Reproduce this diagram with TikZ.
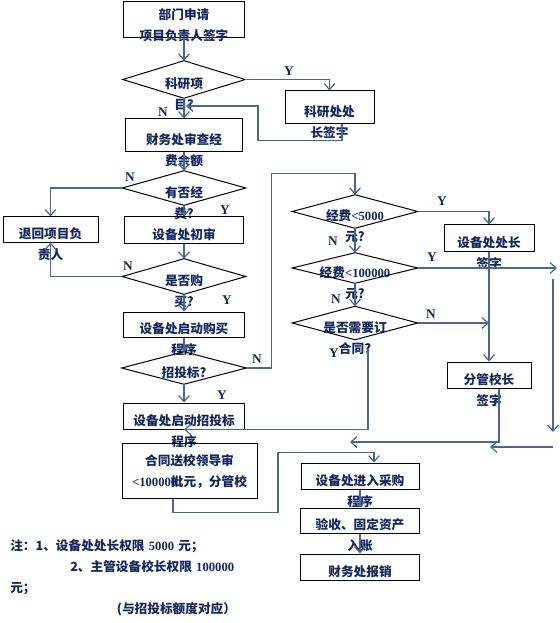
\documentclass[tikz,border=0pt]{standalone}
\usepackage{fontspec}
\setmainfont{Liberation Serif}
\newfontfamily\cjk{Noto Sans CJK SC}
\usetikzlibrary{arrows.meta, calc}
\definecolor{inkblue}{RGB}{18,38,98}
\definecolor{lineblue}{RGB}{72,102,152}

\begin{document}
\begin{tikzpicture}[
    x=0.75pt, y=-0.75pt,
    font=\cjk\bfseries\fontsize{9.5}{15.75}\selectfont,
    box/.style={rectangle, draw=black, line width=0.75pt, text=inkblue,
                align=center, inner sep=0pt, text height=13.6pt, text depth=0pt,
                text width=#1*0.75pt},
    dia/.style={rectangle, text=inkblue, align=center, inner sep=0pt,
                text height=13.6pt, text depth=0pt, text width=#1*0.75pt},
    ht/.style={minimum height=#1*0.75pt},
    yn/.style={font=\rmfamily\bfseries\fontsize{10}{12}\selectfont,
               text=inkblue, inner sep=0pt},
    note/.style={anchor=north west, align=left, text=inkblue, inner sep=0pt,
                 text width=260*0.75pt},
    arr/.style={draw=lineblue, line width=0.9pt,
                -{Straight Barb[length=4.5pt, width=8pt]}}
  ]
    \useasboundingbox (0,0) rectangle (559,623);

    % left column
    \node[box=121, ht=36, text height=0pt] (apply) at (184,20) {部门申请\\项目负责人签字};
    \node[dia=122, ht=37] (isres)    at (184,79.5)  {科研项\\目?};
    \node[box=89, ht=33]  (ressign)  at (329.5,107.5) {科研处处\\长签字};
    \node[box=117, ht=33] (fincheck) at (184,135.5) {财务处审查经\\费余额};
    \node[dia=123, ht=34] (hasfund)  at (184,188)   {有否经\\费?};
    \node[box=95, ht=25]  (back)     at (50.5,229.5) {退回项目负\\责人};
    \node[box=119, ht=26] (firstrev) at (184,230)   {设备处初审};
    \node[dia=123, ht=35] (buy)      at (184,276.5) {是否购\\买?};
    \node[box=121, ht=25] (startbuy) at (184,324.5) {设备处启动购买\\程序};
    \node[dia=124, ht=32] (bid)      at (184,368)   {招投标?};
    \node[box=121, ht=26] (startbid) at (184,416)   {设备处启动招投标\\程序};
    \node[box=135, ht=55, text height=0pt, text depth=8.2pt] (contract) at (189.5,470.5)
        {合同送校领导审\\\textrm{<10000\rlap{0}}批元，分管校};

    % right column
    \node[dia=125, ht=33] (lt5k)     at (355,211.5) {经费\textrm{<5000}\\元?};
    \node[dia=125, ht=30] (lt100k)   at (355,268)   {经费\textrm{<100000}\\元?};
    \node[dia=125, ht=33] (needct)   at (355,323)   {是否需要订\\合同?};
    \node[box=90, ht=26]  (headsign) at (489,238)   {设备处处长\\签字};
    \node[box=84, ht=26]  (vpsign)   at (489,375)   {分管校长\\签字};
    \node[box=118, ht=26] (purchase) at (360,476)   {设备处进入采购\\程序};
    \node[box=119, ht=25] (accept)   at (360,520.5) {验收、固定资产\\入账};
    \node[box=119, ht=26] (reimb)    at (360,567)   {财务处报销};

    \foreach \d in {isres,hasfund,buy,bid,lt5k,lt100k,needct}
      \draw[line width=0.75pt] (\d.west) -- (\d.north) -- (\d.east) -- (\d.south) -- cycle;

    % Y / N
    \node[yn] (y1) at (289,71)  {Y};
    \node[yn] (n1) at (163,112) {N};
    \node[yn] (n2) at (130,177) {N};
    \node[yn] (y2) at (225,210) {Y};
    \node[yn] (n3) at (128,266) {N};
    \node[yn] (y3) at (227,300) {Y};
    \node[yn] (n4) at (257,359) {N};
    \node[yn] (y4) at (222,395) {Y};
    \node[yn] (y5) at (442,201) {Y};
    \node[yn] (n5) at (333,241) {N};
    \node[yn] (y6) at (432,257) {Y};
    \node[yn] (n6) at (336,299) {N};
    \node[yn] (n7) at (431,314) {N};
    \node[yn] (y7) at (334,353) {Y};

    \coordinate (back1) at (186,106);
    \coordinate (ctY)   at ($(needct.south)+(13,9)$);
    \coordinate (rgo)   at (557,268);
    \coordinate (rtop)  at (553,279);
    \coordinate (rbot)  at (553,432);
    \coordinate (rin)   at (553,447);
    \coordinate (rout)  at (490,447);
    \coordinate (vpout) at (350,442);

    \draw[arr] (apply.south) -- (isres.north);
    \draw[arr] (isres.east) -| (ressign.north);
    \draw[arr] ($(ressign.south)+(12.5,0)$) |- ($(ressign.south)+(-71.5,16)$) |- (back1);
    \draw[arr] (isres.south) -- (fincheck.north);
    \draw[arr] (fincheck.south) -- (hasfund.north);
    \draw[arr] (hasfund.west) -| (back.north);
    \draw[arr] (hasfund.south) -- (firstrev.north);
    \draw[arr] (firstrev.south) -- (buy.north);
    \draw[arr] (buy.west) -| (back.south);
    \draw[arr] (buy.south) -- (startbuy.north);
    \draw[arr] (startbuy.south) -- (bid.north);
    \draw[arr] (bid.east) -- ++(25,0) |- ($(lt5k.north)+(0,-21)$) -- (lt5k.north);
    \draw[arr] (bid.south) -- (startbid.north);
    \draw[arr] (ctY) |- (startbid.south);
    \draw[arr] ($(contract.south)+(-16.5,0)$) -- ++(0,14) -- ++(105,0)
        |- ($(purchase.north)+(14,-10)$) -- ($(purchase.north)+(14,0)$);
    \draw[arr] (purchase.south) -- (accept.north);
    \draw[arr] (accept.south) -- (reimb.north);

    \draw[arr] (lt5k.east) -| (headsign.north);
    \draw[arr] (lt5k.south) -- (lt100k.north);
    \draw[arr] (lt100k.south) -- (needct.north);
    \draw[arr] (lt100k.east) -- (rgo);
    \draw[arr] (needct.east) -- (needct.east -| headsign.south);
    \draw[arr] (headsign.south) -- (vpsign.north);
    \draw[arr] (rtop) -- (rbot);
    \draw[arr] (rin) -- (rout);
    \draw[arr] ($(vpsign.south)+(10,0)$) |- (vpout);

    \node[note] (note) at (10,539)
        {注：1、设备处处长权限 \textrm{5000} 元；\\
         \hspace*{45pt}2、主管设备校长权限 \textrm{100000}\\
         元；\\
         \hspace*{80pt}(与招投标额度对应）};
\end{tikzpicture}
\end{document}
